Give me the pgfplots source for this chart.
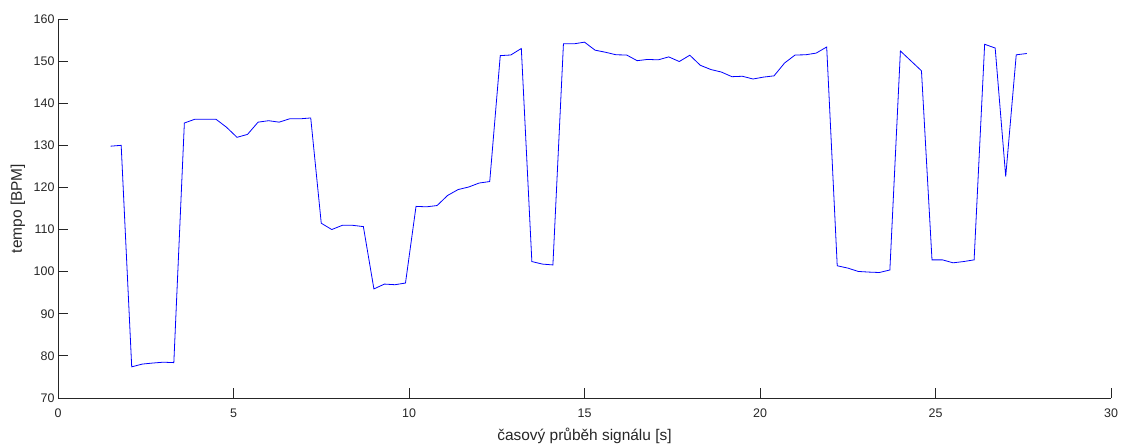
\documentclass[border=0pt]{standalone}
\usepackage{pgfplots}
\pgfplotsset{compat=1.18}
\usepackage{fontspec}
\setmainfont{Liberation Sans}
\definecolor{axgray}{RGB}{38,38,38}
\begin{document}
\begin{tikzpicture}
\begin{axis}[
  scale only axis,
  width=1053bp, height=379bp,
  xmin=0, xmax=30, ymin=70, ymax=160,
  xtick={0,5,...,30}, ytick={70,80,...,160},
  axis x line=bottom, axis y line=left,
  axis line style={-, axgray, line width=0.9bp},
  tick style={axgray, line width=0.9bp},
  tick align=inside,
  major tick length=10bp,
  /pgf/number format/assume math mode=true,
  tick label style={font=\fontsize{12.5}{15}\selectfont, text=axgray},
  xticklabel style={yshift=-7bp},
  label style={font=\fontsize{15.5}{18}\selectfont, text=axgray},
  xlabel={časový průběh signálu [s]},
  ylabel={tempo [BPM]},
  xlabel style={at={(axis description cs:0.5,0)}, anchor=base, yshift=-43bp},
  ylabel style={at={(axis description cs:-0.038,0.5)}, anchor=center},
  clip=false,
]
\addplot[color={rgb,255:red,0;green,0;blue,255}, line width=0.8bp, mark=none] coordinates {
(1.5,129.8) (1.8,130.0) (2.1,77.4) (2.4,78.05) (2.7,78.3) (3.0,78.5) (3.3,78.4)
(3.6,135.3) (3.9,136.2) (4.2,136.2) (4.5,136.2) (4.8,134.3) (5.1,131.9) (5.4,132.6)
(5.7,135.5) (6.0,135.85) (6.3,135.5) (6.6,136.3) (6.9,136.3) (7.2,136.5) (7.5,111.5)
(7.8,110.0) (8.1,111.0) (8.4,111.0) (8.7,110.7) (9.0,95.9) (9.3,97.05) (9.6,96.9)
(9.9,97.3) (10.2,115.5) (10.5,115.4) (10.8,115.7) (11.1,118.1) (11.4,119.5) (11.7,120.1)
(12.0,121.05) (12.3,121.4) (12.6,151.3) (12.9,151.45) (13.2,153.0) (13.5,102.4) (13.8,101.8)
(14.1,101.6) (14.4,154.1) (14.7,154.1) (15.0,154.5) (15.3,152.6) (15.6,152.1) (15.9,151.5)
(16.2,151.45) (16.5,150.1) (16.8,150.4) (17.1,150.3) (17.4,151.0) (17.7,149.9) (18.0,151.4)
(18.3,149.0) (18.6,148.0) (18.9,147.4) (19.2,146.3) (19.5,146.4) (19.8,145.75) (20.1,146.2)
(20.4,146.5) (20.7,149.55) (21.0,151.45) (21.3,151.5) (21.6,151.9) (21.9,153.35) (22.2,101.4)
(22.5,100.85) (22.8,100.05) (23.1,99.9) (23.4,99.8) (23.7,100.4) (24.0,152.4) (24.3,150.05)
(24.6,147.7) (24.9,102.8) (25.2,102.8) (25.5,102.1) (25.8,102.4) (26.1,102.8) (26.4,154.0)
(26.7,153.1) (27.0,122.6) (27.3,151.5) (27.6,151.8)
};
\end{axis}
\pgfresetboundingbox
\useasboundingbox ([xshift=-58bp,yshift=-47bp]current axis.south west) rectangle ([xshift=18bp,yshift=19bp]current axis.north east);
\end{tikzpicture}
\end{document}
